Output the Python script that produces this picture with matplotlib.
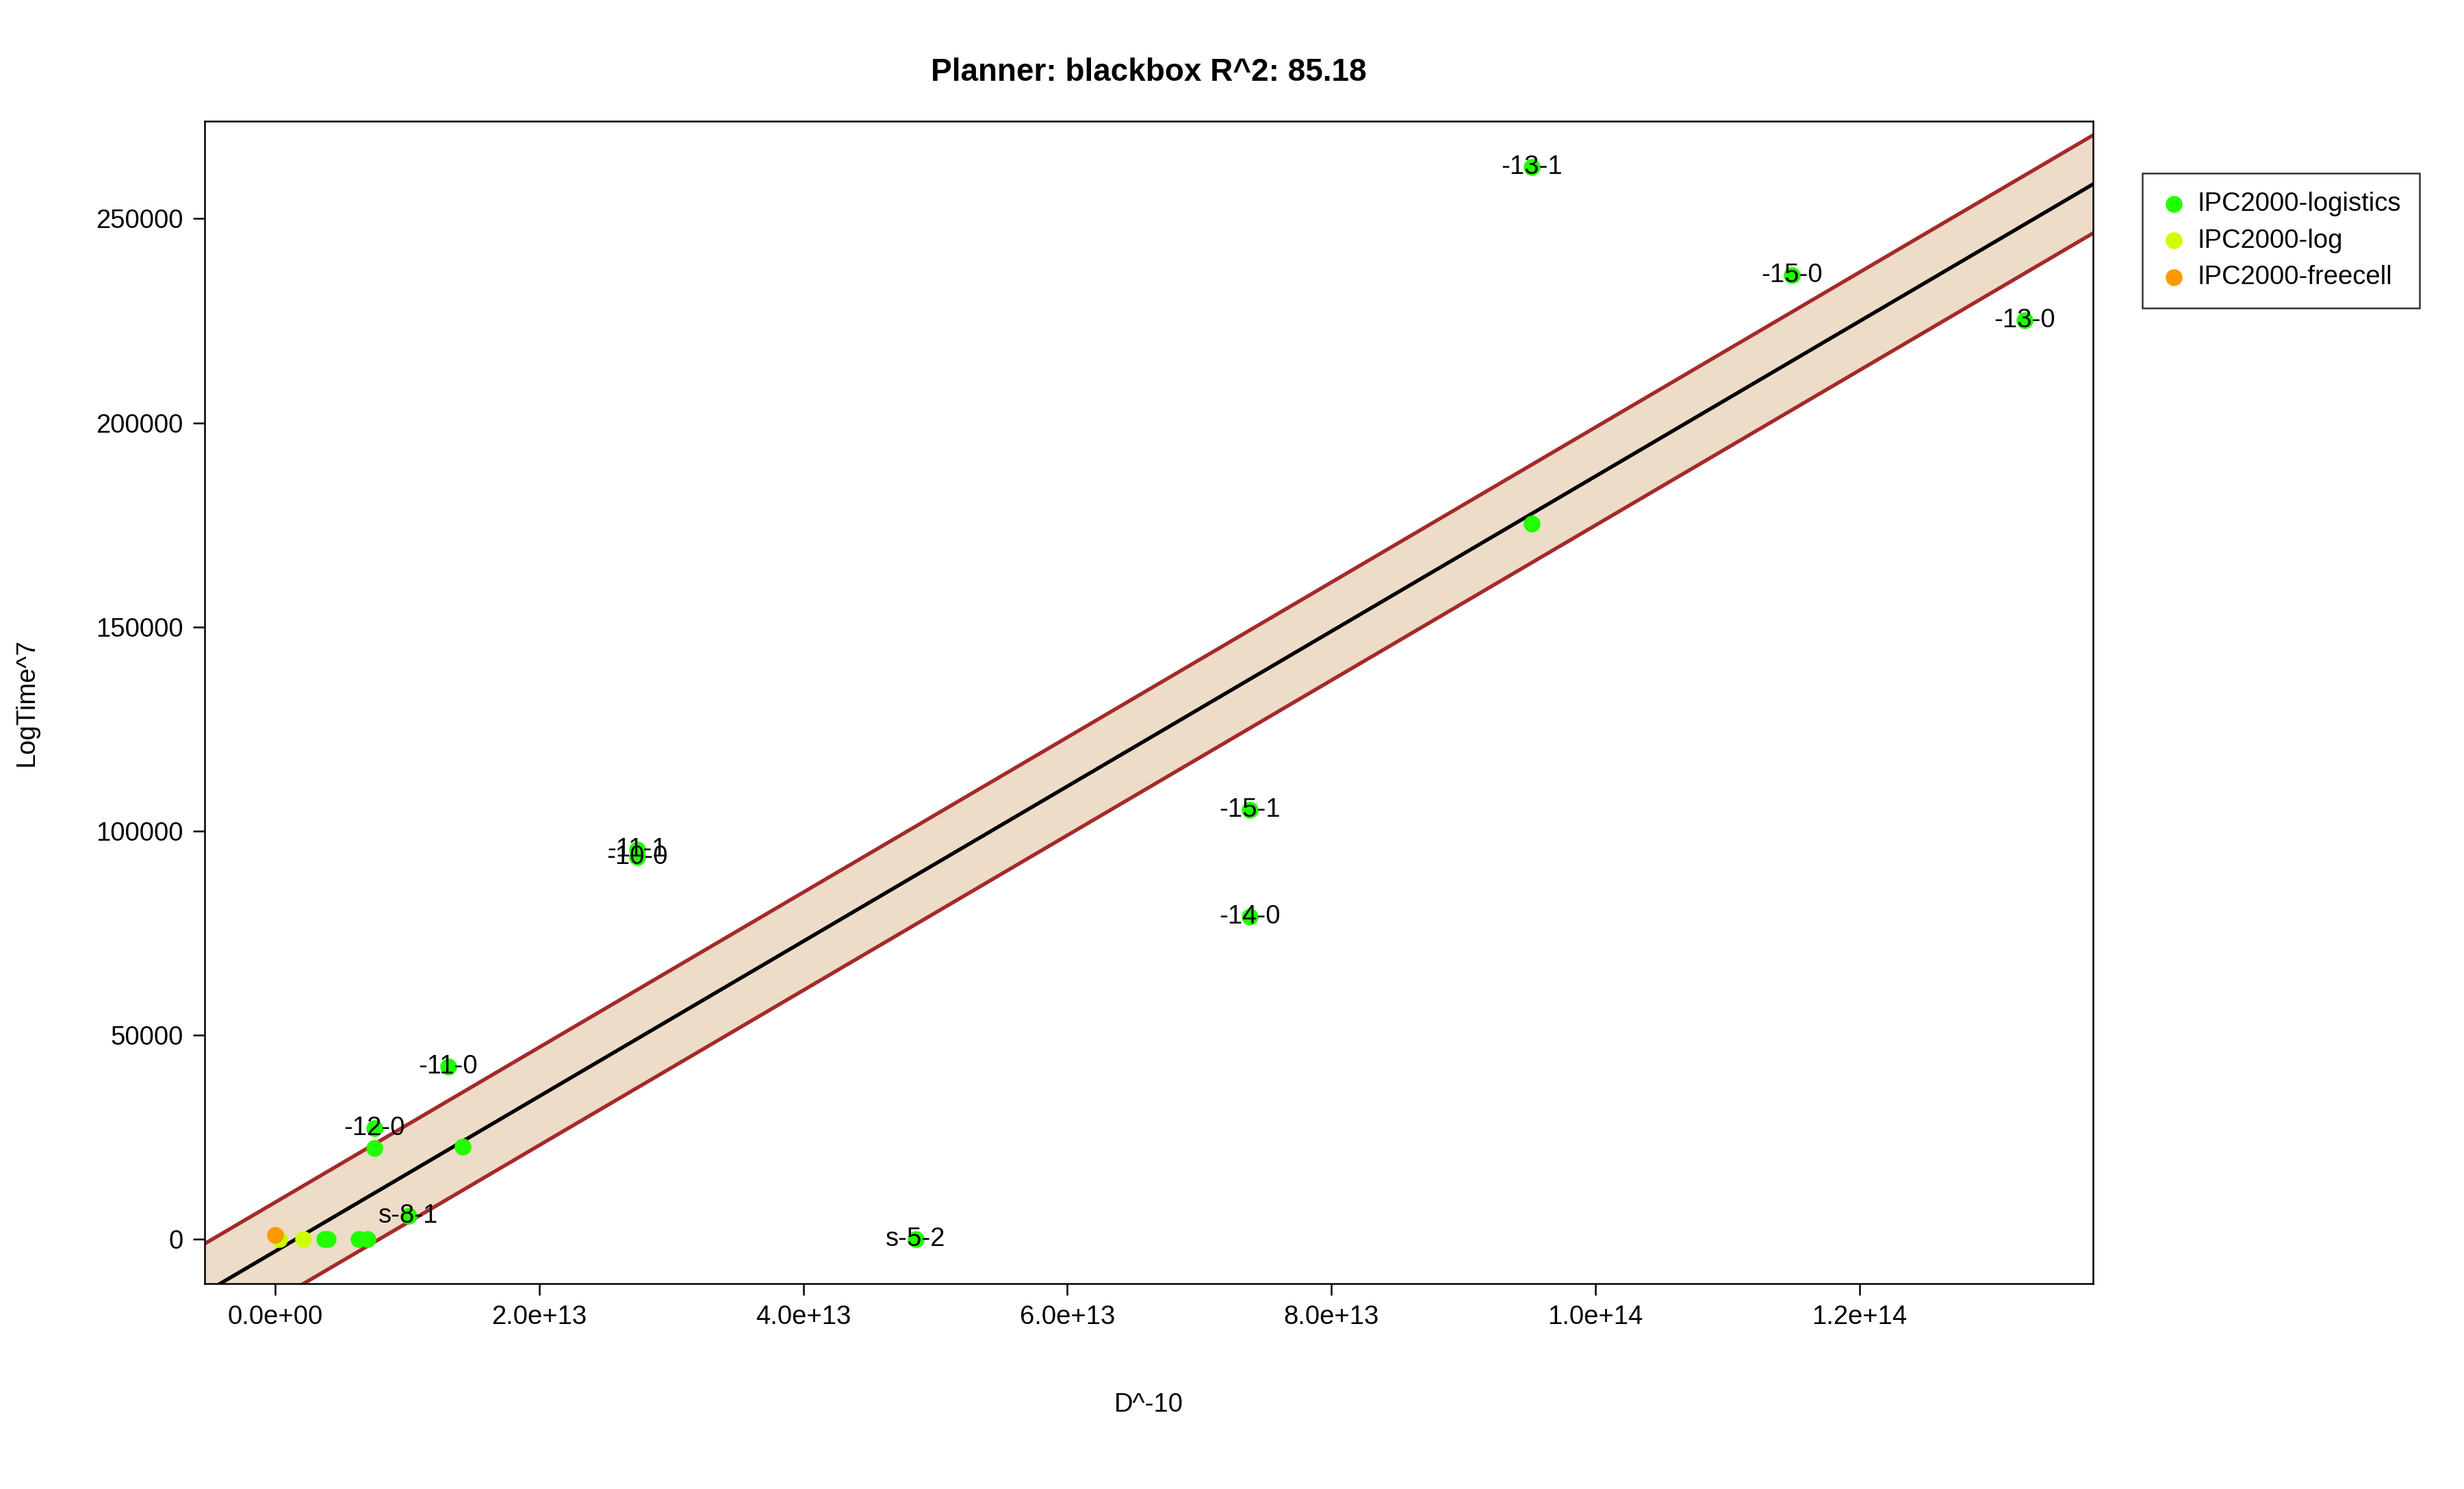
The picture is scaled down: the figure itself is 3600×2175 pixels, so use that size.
import numpy as np
import matplotlib.pyplot as plt
from matplotlib.ticker import FuncFormatter

plt.rcParams["font.family"] = ["Liberation Sans", "DejaVu Sans"]

# points: D^-10 vs LogTime^7
logistics_x = [9.52e13, 11.49e13, 13.25e13, 9.52e13, 7.38e13, 7.38e13, 2.74e13, 2.74e13,
               1.31e13, 0.75e13, 0.75e13, 1.42e13, 1.01e13, 4.85e13, 0.37e13, 0.40e13,
               0.63e13, 0.70e13]
logistics_y = [262700, 236100, 225000, 175300, 105200, 79000, 95500, 93600,
               42400, 27300, 22300, 22700, 5800, 0, 0, 0, 0, 0]
logistics_lab = ["-13-1", "-15-0", "-13-0", "", "-15-1", "-14-0", "-11-1", "-10-0",
                 "-11-0", "-12-0", "", "", "s-8-1", "s-5-2", "", "", "", ""]
log_x = [0.03e13, 0.21e13]
log_y = [0, 0]
freecell_x = [0.0]
freecell_y = [1000]

slope = 1.898e-9
intercept = -2900
band = 12000
r2 = 85.18

green, yellow, orange = "#22ff00", "#ccff00", "#ff9900"
fs = 9.2

fig = plt.figure(figsize=(12, 7.25), dpi=300)
ax = fig.add_axes([0.083, 0.138, 0.7665, 0.7807])

xlim = (-0.536e13, 13.77e13)
ylim = (-10800, 273900)
xs = np.array(xlim)
ax.fill_between(xs, slope * xs + intercept - band, slope * xs + intercept + band,
                color="#ecdcc8", lw=0)
ax.plot(xs, slope * xs + intercept + band, color="#a52a2a", lw=1.3)
ax.plot(xs, slope * xs + intercept - band, color="#a52a2a", lw=1.3)
ax.plot(xs, slope * xs + intercept, color="black", lw=1.3)

ax.scatter(logistics_x, logistics_y, color=green, s=24, zorder=3, label="IPC2000-logistics")
ax.scatter(log_x, log_y, color=yellow, s=24, zorder=3, label="IPC2000-log")
ax.scatter(freecell_x, freecell_y, color=orange, s=24, zorder=3, label="IPC2000-freecell")
for x, y, t in zip(logistics_x, logistics_y, logistics_lab):
    if t:
        ax.text(x, y, t, ha="center", va="center", fontsize=fs, zorder=4)

ax.set_xlim(*xlim)
ax.set_ylim(*ylim)
ax.set_xticks([0, 2e13, 4e13, 6e13, 8e13, 1e14, 1.2e14])
ax.xaxis.set_major_formatter(FuncFormatter(lambda v, p: f"{v:.1e}"))
ax.set_yticks([0, 50000, 100000, 150000, 200000, 250000])
ax.tick_params(labelsize=fs, length=4, width=0.6)
for s in ax.spines.values():
    s.set_linewidth(0.6)
ax.set_xlabel("D^-10", fontsize=fs, labelpad=22)
ax.set_ylabel("LogTime^7", fontsize=fs, labelpad=20)
ax.set_title(f"Planner: blackbox R^2: {r2}", fontsize=11, fontweight="bold", pad=14)

fig.legend(loc="upper left", bbox_to_anchor=(1355 / 1568, 1 - 102 / 947),
           fontsize=fs, frameon=True, fancybox=False, edgecolor="black",
           handletextpad=0.4, borderpad=0.7, labelspacing=0.45, handlelength=1.0,
           markerscale=1.0).get_frame().set_linewidth(0.6)

fig.savefig("out.png", dpi=300)
